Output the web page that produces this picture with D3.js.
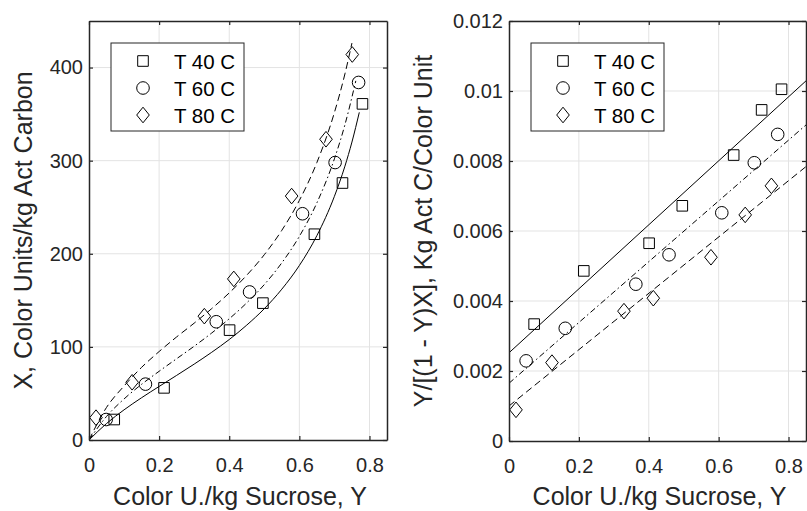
<!DOCTYPE html>
<html>
<head>
<meta charset="utf-8">
<script src="https://cdn.jsdelivr.net/npm/d3@7"></script>
<style>
  body { margin: 0; background: #fff; }
  svg { display: block; font-family: "Liberation Sans", Arial, sans-serif; }
</style>
</head>
<body>
<svg id="chart" width="807" height="511"></svg>
<script>
// Series names and marker shapes, same order everywhere
const seriesNames = ["T 40 C", "T 60 C", "T 80 C"];
const seriesShapes = ["square", "circle", "diamond"];
const seriesDash = [null, "6,3,1.5,3", "7,4"];

// Sucrose colour Y for each measured point
const sucrose40 = [0.072, 0.214, 0.401, 0.496, 0.643, 0.723, 0.780];
const sucrose60 = [0.049, 0.161, 0.363, 0.458, 0.609, 0.702, 0.769];
const sucrose80 = [0.020, 0.123, 0.329, 0.413, 0.578, 0.676, 0.751];

// X, colour units per kg carbon (left panel)
const carbon40 = [22, 56, 118, 147, 221, 276, 361];
const carbon60 = [22, 60, 127, 159, 243, 298, 384];
const carbon80 = [24, 62, 133, 173, 262, 323, 414];

// Y/[(1-Y)X] (right panel)
const ratio40 = [0.00334, 0.00486, 0.00565, 0.00672, 0.00817, 0.00946, 0.01005];
const ratio60 = [0.00229, 0.00322, 0.00448, 0.00532, 0.00652, 0.00795, 0.00876];
const ratio80 = [0.00089, 0.00224, 0.00371, 0.00408, 0.00525, 0.00646, 0.00729];

// fitted curves
const curveY40 = [0, 0.05, 0.1, 0.15, 0.2, 0.25, 0.3, 0.35, 0.4, 0.45, 0.5, 0.55, 0.6, 0.65, 0.7, 0.73, 0.75, 0.771];
const curveX40 = [0, 17.7, 32.4, 45.4, 57.5, 69.4, 81.5, 94.2, 107.9, 123.4, 141.0, 162.0, 187.4, 219.5, 261.7, 294.1, 320.0, 351.9];
const curveY60 = [0, 0.05, 0.1, 0.15, 0.2, 0.25, 0.3, 0.35, 0.4, 0.45, 0.5, 0.55, 0.6, 0.65, 0.7, 0.73, 0.761];
const curveX60 = [0, 25.3, 44.1, 59.8, 73.8, 87.3, 100.7, 114.9, 130.2, 147.3, 166.9, 190.3, 218.7, 254.7, 302.0, 338.6, 385.7];
const curveY80 = [0, 0.05, 0.1, 0.15, 0.2, 0.25, 0.3, 0.35, 0.4, 0.45, 0.5, 0.55, 0.6, 0.65, 0.7, 0.73, 0.75];
const curveX80 = [0, 35.0, 58.0, 78.0, 95.0, 110.7, 125.5, 141.1, 158.0, 177.0, 199.0, 225.2, 257.3, 298.0, 351.7, 393.2, 426.3];

// fitted straight lines of the right panel (at Y = 0 and Y = 0.85)
const fitY = [0, 0.85];
const fit40 = [0.00252, 0.01029];
const fit60 = [0.00165, 0.00903];
const fit80 = [0.00100, 0.00784];

// ticks
const xTicks = [0, 0.2, 0.4, 0.6, 0.8];
const xTickLabels = ["0", "0.2", "0.4", "0.6", "0.8"];
const leftYTicks = [0, 100, 200, 300, 400];
const leftYTickLabels = ["0", "100", "200", "300", "400"];
const rightYTicks = [0, 0.002, 0.004, 0.006, 0.008, 0.01, 0.012];
const rightYTickLabels = ["0", "0.002", "0.004", "0.006", "0.008", "0.01", "0.012"];

const ink = "#262626";
const svg = d3.select("#chart");

function shapeD(shape) {
  if (shape === "square") return "M-5.3,-5.3H5.3V5.3H-5.3Z";
  if (shape === "diamond") return "M0,-7.8L6.3,0L0,7.8L-6.3,0Z";
  const p = d3.path();
  p.arc(0, 0, 6.3, 0, 2 * Math.PI);
  p.closePath();
  return p.toString();
}

function drawPanel(cfg) {
  const x = d3.scaleLinear().domain([0, 0.85]).range([cfg.left, cfg.right]);
  const y = d3.scaleLinear().domain(cfg.yDomain).range([cfg.bottom, cfg.top]);
  const g = svg.append("g");

  const clipId = "clip" + cfg.id;
  svg.append("clipPath").attr("id", clipId).append("rect")
    .attr("x", cfg.left).attr("y", cfg.top)
    .attr("width", cfg.right - cfg.left).attr("height", cfg.bottom - cfg.top);

  // grid
  g.append("g").selectAll("line").data(xTicks.slice(1)).join("line")
    .attr("x1", d => x(d)).attr("x2", d => x(d))
    .attr("y1", cfg.top).attr("y2", cfg.bottom)
    .attr("stroke", "#e3e3e3").attr("stroke-width", 1);
  g.append("g").selectAll("line").data(cfg.yTicks.slice(1)).join("line")
    .attr("x1", cfg.left).attr("x2", cfg.right)
    .attr("y1", d => y(d)).attr("y2", d => y(d))
    .attr("stroke", "#e3e3e3").attr("stroke-width", 1);

  // curves / fit lines
  const line = d3.line().x(d => x(d[0])).y(d => y(d[1])).curve(d3.curveMonotoneX);
  cfg.lines.forEach((ln, i) => {
    g.append("path")
      .datum(d3.zip(ln[0], ln[1]))
      .attr("d", line)
      .attr("clip-path", `url(#${clipId})`)
      .attr("fill", "none")
      .attr("stroke", "#000")
      .attr("stroke-width", 1)
      .attr("stroke-dasharray", seriesDash[i]);
  });

  // markers
  cfg.points.forEach((pt, i) => {
    g.append("g").selectAll("path").data(d3.zip(pt[0], pt[1])).join("path")
      .attr("transform", d => `translate(${x(d[0])},${y(d[1])})`)
      .attr("d", shapeD(seriesShapes[i]))
      .attr("fill", "none")
      .attr("stroke", "#000")
      .attr("stroke-width", 1);
  });

  // axes (ticks inward, box on)
  const axB = d3.axisBottom(x).tickValues(xTicks).tickFormat((d, i) => xTickLabels[i])
    .tickSizeInner(-4).tickSizeOuter(0).tickPadding(18);
  const axT = d3.axisTop(x).tickValues(xTicks).tickFormat("")
    .tickSizeInner(-4).tickSizeOuter(0);
  const axL = d3.axisLeft(y).tickValues(cfg.yTicks).tickFormat((d, i) => cfg.yTickLabels[i])
    .tickSizeInner(-4).tickSizeOuter(0).tickPadding(6);
  const axR = d3.axisRight(y).tickValues(cfg.yTicks).tickFormat("")
    .tickSizeInner(-4).tickSizeOuter(0);

  const axes = [
    [axB, `translate(0,${cfg.bottom})`],
    [axT, `translate(0,${cfg.top})`],
    [axL, `translate(${cfg.left},0)`],
    [axR, `translate(${cfg.right},0)`]
  ];
  axes.forEach(([ax, tr]) => {
    const a = g.append("g").attr("transform", tr).call(ax);
    a.select(".domain").attr("stroke", ink).attr("stroke-width", 1.5);
    a.selectAll(".tick line").attr("stroke", ink).attr("stroke-width", 1.2);
    a.selectAll("text").attr("fill", ink).style("font-size", "20px")
      .style("font-family", "'Liberation Sans', Arial, sans-serif");
  });

  // axis titles
  g.append("text")
    .attr("x", (cfg.left + cfg.right) / 2 + 2).attr("y", 505)
    .attr("text-anchor", "middle").attr("fill", ink)
    .style("font-size", "25px")
    .text("Color U./kg Sucrose, Y");
  g.append("text")
    .attr("transform", `translate(${cfg.yLabelX},${(cfg.top + cfg.bottom) / 2}) rotate(-90)`)
    .attr("text-anchor", "middle").attr("fill", ink)
    .style("font-size", "25px")
    .text(cfg.yLabel);

  // legend
  const lg = g.append("g").attr("transform", `translate(${cfg.left + 22},43)`);
  lg.append("rect").attr("width", 133).attr("height", 88)
    .attr("fill", "#fff").attr("stroke", ink).attr("stroke-width", 1);
  seriesNames.forEach((name, i) => {
    const row = lg.append("g").attr("transform", `translate(0,${18 + i * 27})`);
    row.append("path").attr("transform", "translate(32,0)")
      .attr("d", shapeD(seriesShapes[i]))
      .attr("fill", "none").attr("stroke", "#000").attr("stroke-width", 1);
    row.append("text").attr("x", 63).attr("y", 7.5)
      .attr("fill", "#000").style("font-size", "20.5px").text(name);
  });
}

drawPanel({
  id: "L", left: 89, right: 387, top: 21, bottom: 440,
  yDomain: [0, 450], yTicks: leftYTicks, yTickLabels: leftYTickLabels,
  yLabel: "X, Color Units/kg Act Carbon", yLabelX: 32,
  lines: [[curveY40, curveX40], [curveY60, curveX60], [curveY80, curveX80]],
  points: [[sucrose40, carbon40], [sucrose60, carbon60], [sucrose80, carbon80]]
});

drawPanel({
  id: "R", left: 509, right: 806, top: 21, bottom: 441,
  yDomain: [0, 0.012], yTicks: rightYTicks, yTickLabels: rightYTickLabels,
  yLabel: "Y/[(1 - Y)X], Kg Act C/Color Unit", yLabelX: 432,
  lines: [[fitY, fit40], [fitY, fit60], [fitY, fit80]],
  points: [[sucrose40, ratio40], [sucrose60, ratio60], [sucrose80, ratio80]]
});
</script>
</body>
</html>
